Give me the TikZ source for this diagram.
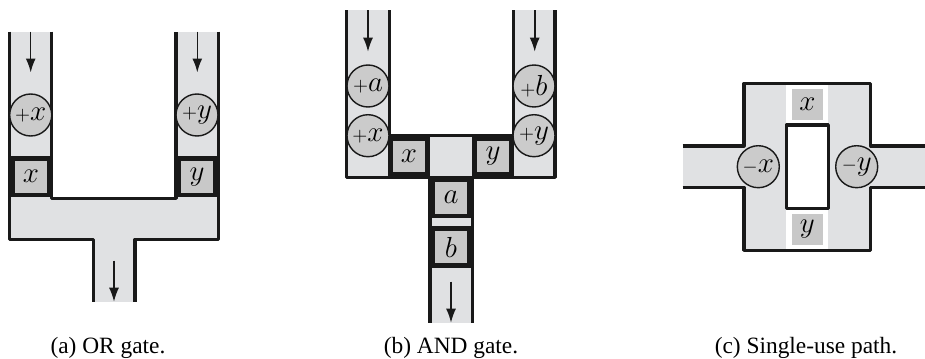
\RequirePackage{fix-cm}
\documentclass[tikz,border=0pt]{standalone}
\usepackage{fontspec}
\setmainfont{Liberation Serif}
\usetikzlibrary{arrows.meta}
\definecolor{channelgray}{HTML}{E0E1E3}
\definecolor{padgray}{HTML}{C8C8C8}
\definecolor{gategray}{HTML}{CBCBCB}
\newcommand{\mathlabel}{\fontsize{16.5}{17}\selectfont}
\newcommand{\sgn}[1]{{\fontsize{11}{12}\selectfont$#1$}}
\tikzset{
    wall/.style={line width=1.8pt,line join=round,black!90},
    channel/.style={fill=channelgray},
    flow/.style={line width=0.9pt,black!90,-{Latex[length=0.28cm,width=0.2cm]}},
    pad/.style={fill=padgray,minimum size=0.63cm,inner sep=0pt,font=\mathlabel},
    toll/.style={draw=black!90,line width=2.7pt,fill=padgray,minimum size=0.73cm,inner sep=0pt,font=\mathlabel},
    gate/.style={circle,draw=black!90,line width=0.8pt,fill=gategray,minimum size=0.84cm,inner sep=0pt,font=\mathlabel},
    subcaption/.style={anchor=base,font=\fontsize{13.3}{15}\selectfont,inner sep=0pt}
}
\begin{document}
\begin{tikzpicture}[x=0.02cm,y=-0.02cm]
    \useasboundingbox (0,0) rectangle (925,358);
    % OR gate: the channels
    \fill[channel] (9.3,31.7) rectangle (51.7,198);
    \fill[channel] (176,31.7) rectangle (218.3,198);
    \fill[channel] (9.3,198) rectangle (218.3,239.3);
    \fill[channel] (93.3,239) rectangle (135,301.7);
    \draw[wall] (9.3,31.7) -- (9.3,239.3) -- (93.3,239.3) -- (93.3,301.7);
    \draw[wall] (218.3,31.7) -- (218.3,239.3) -- (135,239.3) -- (135,301.7);
    \draw[wall] (51.7,31.7) -- (51.7,198.3) -- (176,198.3) -- (176,31.7);
    % OR gate: gates and tolls
    \node[gate] (orplusx) at (30.7,115) {\sgn{+}$x$};
    \node[gate] (orplusy) at (197,115) {\sgn{+}$y$};
    \node[toll] (ortollx) at (31,176.7) {$x$};
    \node[toll] (ortolly) at (197,176.7) {$y$};
    % OR gate: the direction of travel
    \coordinate (orinx) at (30.7,31.7);
    \coordinate (orinxend) at (30.7,72.5);
    \coordinate (oriny) at (197.3,31.7);
    \coordinate (orinyend) at (197.3,72.5);
    \coordinate (orout) at (114,260.7);
    \coordinate (oroutend) at (114,301.7);
    \draw[flow] (orinx) -- (orinxend);
    \draw[flow] (oriny) -- (orinyend);
    \draw[flow] (orout) -- (oroutend);
    \node[subcaption] (orcaption) at (108,353) {(a) OR gate.};

    % AND gate: the channels
    \fill[channel] (346.7,10.3) rectangle (389.3,177.3);
    \fill[channel] (513.3,10.3) rectangle (555,177.3);
    \fill[channel] (389,136) rectangle (513.5,177.3);
    \fill[channel] (430,177) rectangle (472.3,322.7);
    \draw[wall] (346.7,10.3) -- (346.7,177.3) -- (555,177.3) -- (555,10.3);
    \draw[wall] (389.3,10.3) -- (389.3,135.5) -- (513.3,135.5) -- (513.3,10.3);
    \draw[wall] (430,177.3) -- (430,322.7);
    \draw[wall] (472.3,177.3) -- (472.3,322.7);
    % AND gate: gates and tolls
    \node[gate] (andplusa) at (368,86) {\sgn{+}$a$};
    \node[gate] (andplusx) at (368,135.7) {\sgn{+}$x$};
    \node[gate] (andplusb) at (534,86) {\sgn{+}$b$};
    \node[gate] (andplusy) at (534,135.7) {\sgn{+}$y$};
    \node[toll] (andtollx) at (409,156.5) {$x$};
    \node[toll] (andtolly) at (493,156.5) {$y$};
    \node[toll] (andtolla) at (451,197.7) {$a$};
    \node[toll] (andtollb) at (451,247) {$b$};
    % AND gate: the direction of travel
    \coordinate (andina) at (368,10.3);
    \coordinate (andinaend) at (368,51.7);
    \coordinate (andinb) at (534.7,10.3);
    \coordinate (andinbend) at (534.7,51.7);
    \coordinate (andout) at (451,281.7);
    \coordinate (andoutend) at (451,322.7);
    \draw[flow] (andina) -- (andinaend);
    \draw[flow] (andinb) -- (andinbend);
    \draw[flow] (andout) -- (andoutend);
    \node[subcaption] (andcaption) at (451,353) {(b) AND gate.};

    % Single-use path: the channels
    \fill[channel] (682.7,146) rectangle (744,187.3);
    \fill[channel] (870,146) rectangle (925,187.3);
    \fill[channel] (744,83.3) rectangle (870.7,250.3);
    \fill[white] (786.3,85) rectangle (828.3,125);
    \fill[white] (786.3,208) rectangle (828.3,248.6);
    \draw[wall] (682.7,146) -- (744,146) -- (744,83.3) -- (870.7,83.3) -- (870.7,146) -- (925,146);
    \draw[wall] (682.7,187.3) -- (744,187.3) -- (744,250.3) -- (870.7,250.3) -- (870.7,187.3) -- (925,187.3);
    \draw[wall,fill=white] (786.3,125) rectangle (828.3,208.3);
    % Single-use path: gates and pads
    \node[gate] (useminusx) at (758.3,166.7) {\sgn{-}$x$};
    \node[gate] (useminusy) at (856.7,166.7) {\sgn{-}$y$};
    \node[pad] (usepadx) at (807.3,104.5) {$x$};
    \node[pad] (usepady) at (807.3,229.5) {$y$};
    \node[subcaption] (usecaption) at (806,353) {(c) Single-use path.};
\end{tikzpicture}
\end{document}
